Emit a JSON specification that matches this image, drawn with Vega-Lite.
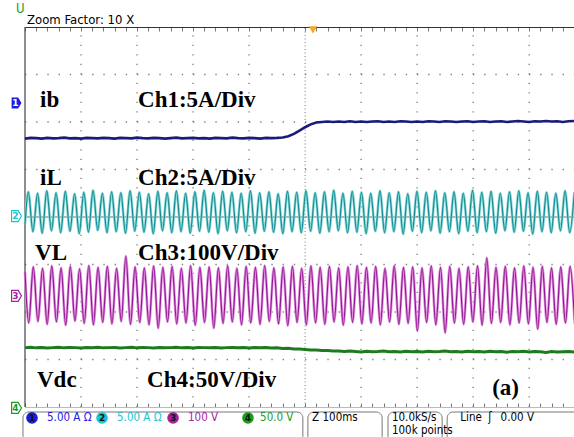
{
"$schema": "https://vega.github.io/schema/vega-lite/v6.json",
"width": 549, "height": 380,
"autosize": {"type": "none"},
"padding": {"left": 25, "top": 27, "right": 0, "bottom": 30},
"background": "white",
"config": {"view": {"stroke": null}},
"datasets": {
"gv": [{"t":10,"v":-4,"v2":4},{"t":20,"v":-4,"v2":4},{"t":30,"v":-4,"v2":4},{"t":40,"v":-4,"v2":4},{"t":60,"v":-4,"v2":4},{"t":70,"v":-4,"v2":4},{"t":80,"v":-4,"v2":4},{"t":90,"v":-4,"v2":4}],
"gh": [{"t":0,"t2":98,"v":-3},{"t":0,"t2":98,"v":-2},{"t":0,"t2":98,"v":-1},{"t":0,"t2":98,"v":1},{"t":0,"t2":98,"v":2},{"t":0,"t2":98,"v":3}],
"cv": [{"t":50,"v":-4,"v2":4}],
"lb": [{"t":0,"v":-4,"v2":4}],
"ch": [{"t":0,"t2":98,"v":0}],
"ib": [{"t":0,"v":1.65},{"t":1,"v":1.665},{"t":2,"v":1.66},{"t":3,"v":1.65},{"t":4,"v":1.665},{"t":5,"v":1.655},{"t":6,"v":1.66},{"t":7,"v":1.67},{"t":8,"v":1.655},{"t":9,"v":1.66},{"t":10,"v":1.65},{"t":11,"v":1.665},{"t":12,"v":1.66},{"t":13,"v":1.655},{"t":14,"v":1.665},{"t":15,"v":1.66},{"t":16,"v":1.65},{"t":17,"v":1.665},{"t":18,"v":1.66},{"t":19,"v":1.655},{"t":20,"v":1.67},{"t":21,"v":1.66},{"t":22,"v":1.655},{"t":23,"v":1.665},{"t":24,"v":1.66},{"t":25,"v":1.65},{"t":26,"v":1.66},{"t":27,"v":1.67},{"t":28,"v":1.655},{"t":29,"v":1.66},{"t":30,"v":1.665},{"t":31,"v":1.655},{"t":32,"v":1.66},{"t":33,"v":1.65},{"t":34,"v":1.665},{"t":35,"v":1.66},{"t":36,"v":1.655},{"t":37,"v":1.67},{"t":38,"v":1.66},{"t":39,"v":1.655},{"t":40,"v":1.665},{"t":41,"v":1.66},{"t":42,"v":1.65},{"t":43,"v":1.665},{"t":44,"v":1.66},{"t":45,"v":1.665},{"t":46,"v":1.675},{"t":47,"v":1.7},{"t":48,"v":1.75},{"t":49,"v":1.82},{"t":50,"v":1.89},{"t":51,"v":1.95},{"t":52,"v":1.99},{"t":53,"v":2.0},{"t":54,"v":2.01},{"t":55,"v":2.0},{"t":56,"v":2.01},{"t":57,"v":2.0},{"t":58,"v":2.015},{"t":59,"v":2.0},{"t":60,"v":2.01},{"t":61,"v":2.0},{"t":62,"v":2.01},{"t":63,"v":2.015},{"t":64,"v":2.0},{"t":65,"v":2.01},{"t":66,"v":2.0},{"t":67,"v":2.015},{"t":68,"v":2.01},{"t":69,"v":2.0},{"t":70,"v":2.01},{"t":71,"v":2.0},{"t":72,"v":2.015},{"t":73,"v":2.01},{"t":74,"v":2.0},{"t":75,"v":2.015},{"t":76,"v":2.01},{"t":77,"v":2.0},{"t":78,"v":2.01},{"t":79,"v":2.015},{"t":80,"v":2.0},{"t":81,"v":2.01},{"t":82,"v":2.015},{"t":83,"v":2.0},{"t":84,"v":2.01},{"t":85,"v":2.015},{"t":86,"v":2.0},{"t":87,"v":2.01},{"t":88,"v":2.02},{"t":89,"v":2.01},{"t":90,"v":2.0},{"t":91,"v":2.015},{"t":92,"v":2.01},{"t":93,"v":2.02},{"t":94,"v":2.01},{"t":95,"v":2.015},{"t":96,"v":2.0},{"t":97,"v":2.015},{"t":98,"v":2.02}],
"il": [{"t":0,"v":-0.15},{"t":0.59,"v":0.53},{"t":1.42,"v":-0.31},{"t":2.24,"v":0.5},{"t":3.07,"v":-0.34},{"t":3.89,"v":0.55},{"t":4.72,"v":-0.29},{"t":5.55,"v":0.51},{"t":6.37,"v":-0.33},{"t":7.2,"v":0.54},{"t":8.02,"v":-0.3},{"t":8.85,"v":0.49},{"t":9.68,"v":-0.35},{"t":10.5,"v":0.52},{"t":11.33,"v":-0.32},{"t":12.15,"v":0.56},{"t":12.98,"v":-0.28},{"t":13.81,"v":0.5},{"t":14.63,"v":-0.33},{"t":15.46,"v":0.53},{"t":16.28,"v":-0.31},{"t":17.11,"v":0.51},{"t":17.94,"v":-0.34},{"t":18.76,"v":0.55},{"t":19.59,"v":-0.3},{"t":20.41,"v":0.52},{"t":21.24,"v":-0.32},{"t":22.07,"v":0.49},{"t":22.89,"v":-0.35},{"t":23.72,"v":0.54},{"t":24.54,"v":-0.29},{"t":25.37,"v":0.51},{"t":26.2,"v":-0.33},{"t":27.02,"v":0.55},{"t":27.85,"v":-0.31},{"t":28.67,"v":0.5},{"t":29.5,"v":-0.34},{"t":30.33,"v":0.53},{"t":31.15,"v":-0.3},{"t":31.98,"v":0.56},{"t":32.8,"v":-0.32},{"t":33.63,"v":0.51},{"t":34.46,"v":-0.35},{"t":35.28,"v":0.54},{"t":36.11,"v":-0.29},{"t":36.93,"v":0.52},{"t":37.76,"v":-0.33},{"t":38.59,"v":0.5},{"t":39.41,"v":-0.31},{"t":40.24,"v":0.55},{"t":41.06,"v":-0.34},{"t":41.89,"v":0.51},{"t":42.72,"v":-0.3},{"t":43.54,"v":0.53},{"t":44.37,"v":-0.32},{"t":45.19,"v":0.49},{"t":46.02,"v":-0.35},{"t":46.85,"v":0.54},{"t":47.67,"v":-0.31},{"t":48.5,"v":0.52},{"t":49.32,"v":-0.33},{"t":50.15,"v":0.55},{"t":50.98,"v":-0.3},{"t":51.8,"v":0.51},{"t":52.63,"v":-0.34},{"t":53.45,"v":0.53},{"t":54.28,"v":-0.31},{"t":55.11,"v":0.56},{"t":55.93,"v":-0.29},{"t":56.76,"v":0.5},{"t":57.58,"v":-0.33},{"t":58.41,"v":0.54},{"t":59.24,"v":-0.32},{"t":60.06,"v":0.52},{"t":60.89,"v":-0.35},{"t":61.71,"v":0.5},{"t":62.54,"v":-0.3},{"t":63.37,"v":0.55},{"t":64.19,"v":-0.33},{"t":65.02,"v":0.51},{"t":65.84,"v":-0.31},{"t":66.67,"v":0.53},{"t":67.5,"v":-0.36},{"t":68.32,"v":0.49},{"t":69.15,"v":-0.3},{"t":69.97,"v":0.54},{"t":70.8,"v":-0.33},{"t":71.63,"v":0.52},{"t":72.45,"v":-0.29},{"t":73.28,"v":0.55},{"t":74.1,"v":-0.34},{"t":74.93,"v":0.51},{"t":75.76,"v":-0.31},{"t":76.58,"v":0.53},{"t":77.41,"v":-0.35},{"t":78.23,"v":0.5},{"t":79.06,"v":-0.3},{"t":79.89,"v":0.56},{"t":80.71,"v":-0.33},{"t":81.54,"v":0.52},{"t":82.36,"v":-0.31},{"t":83.19,"v":0.54},{"t":84.02,"v":-0.34},{"t":84.84,"v":0.5},{"t":85.67,"v":-0.29},{"t":86.49,"v":0.53},{"t":87.32,"v":-0.32},{"t":88.15,"v":0.55},{"t":88.97,"v":-0.3},{"t":89.8,"v":0.51},{"t":90.62,"v":-0.36},{"t":91.45,"v":0.54},{"t":92.28,"v":-0.31},{"t":93.1,"v":0.52},{"t":93.93,"v":-0.33},{"t":94.75,"v":0.5},{"t":95.58,"v":-0.29},{"t":96.41,"v":0.55},{"t":97.23,"v":-0.33},{"t":98.06,"v":0.52}],
"vl": [{"t":0,"v":-1.16},{"t":0.66,"v":-2.23},{"t":1.48,"v":-1.05},{"t":2.31,"v":-2.2},{"t":3.13,"v":-1.08},{"t":3.96,"v":-2.26},{"t":4.78,"v":-1.03},{"t":5.61,"v":-2.21},{"t":6.44,"v":-1.07},{"t":7.26,"v":-2.28},{"t":8.09,"v":-1.04},{"t":8.92,"v":-2.19},{"t":9.74,"v":-1.09},{"t":10.57,"v":-2.24},{"t":11.39,"v":-1.02},{"t":12.22,"v":-2.27},{"t":13.04,"v":-1.06},{"t":13.87,"v":-2.22},{"t":14.7,"v":-1.04},{"t":15.52,"v":-2.25},{"t":16.35,"v":-1.08},{"t":17.18,"v":-2.2},{"t":18.0,"v":-0.82},{"t":18.83,"v":-2.26},{"t":19.65,"v":-1.05},{"t":20.48,"v":-2.22},{"t":21.3,"v":-1.07},{"t":22.13,"v":-2.27},{"t":22.96,"v":-1.03},{"t":23.78,"v":-2.34},{"t":24.61,"v":-1.06},{"t":25.44,"v":-2.21},{"t":26.26,"v":-1.04},{"t":27.09,"v":-2.25},{"t":27.91,"v":-1.08},{"t":28.74,"v":-2.23},{"t":29.56,"v":-1.02},{"t":30.39,"v":-2.28},{"t":31.22,"v":-1.06},{"t":32.04,"v":-2.22},{"t":32.87,"v":-1.05},{"t":33.7,"v":-2.34},{"t":34.52,"v":-1.07},{"t":35.35,"v":-2.24},{"t":36.17,"v":-1.03},{"t":37.0,"v":-2.21},{"t":37.82,"v":-1.08},{"t":38.65,"v":-2.27},{"t":39.48,"v":-1.04},{"t":40.3,"v":-2.23},{"t":41.13,"v":-1.06},{"t":41.96,"v":-2.26},{"t":42.78,"v":-1.02},{"t":43.61,"v":-2.2},{"t":44.43,"v":-1.07},{"t":45.26,"v":-2.25},{"t":46.08,"v":-1.05},{"t":46.91,"v":-2.29},{"t":47.74,"v":-1.04},{"t":48.56,"v":-2.22},{"t":49.39,"v":-1.08},{"t":50.22,"v":-2.27},{"t":51.04,"v":-1.03},{"t":51.87,"v":-2.23},{"t":52.69,"v":-1.06},{"t":53.52,"v":-2.26},{"t":54.34,"v":-1.04},{"t":55.17,"v":-2.21},{"t":56.0,"v":-1.07},{"t":56.82,"v":-2.28},{"t":57.65,"v":-1.05},{"t":58.48,"v":-2.22},{"t":59.3,"v":-1.02},{"t":60.13,"v":-2.25},{"t":60.95,"v":-1.06},{"t":61.78,"v":-2.23},{"t":62.6,"v":-1.04},{"t":63.43,"v":-2.27},{"t":64.26,"v":-1.08},{"t":65.08,"v":-2.21},{"t":65.91,"v":-1.03},{"t":66.74,"v":-2.26},{"t":67.56,"v":-1.06},{"t":68.39,"v":-2.24},{"t":69.21,"v":-1.05},{"t":70.04,"v":-2.4},{"t":70.86,"v":-1.07},{"t":71.69,"v":-2.22},{"t":72.52,"v":-1.03},{"t":73.34,"v":-2.27},{"t":74.17,"v":-1.06},{"t":75.0,"v":-2.44},{"t":75.82,"v":-1.04},{"t":76.65,"v":-2.23},{"t":77.47,"v":-1.08},{"t":78.3,"v":-2.26},{"t":79.12,"v":-1.05},{"t":79.95,"v":-2.21},{"t":80.78,"v":-1.03},{"t":81.6,"v":-2.28},{"t":82.43,"v":-0.86},{"t":83.26,"v":-2.24},{"t":84.08,"v":-1.06},{"t":84.91,"v":-2.22},{"t":85.73,"v":-1.04},{"t":86.56,"v":-2.27},{"t":87.38,"v":-1.07},{"t":88.21,"v":-2.23},{"t":89.04,"v":-1.03},{"t":89.86,"v":-2.25},{"t":90.69,"v":-1.06},{"t":91.52,"v":-2.36},{"t":92.34,"v":-1.04},{"t":93.17,"v":-2.22},{"t":93.99,"v":-1.07},{"t":94.82,"v":-2.26},{"t":95.64,"v":-1.05},{"t":96.47,"v":-2.23},{"t":97.3,"v":-1.04},{"t":98.12,"v":-2.25}],
"vdc": [{"t":0,"v":-2.75},{"t":1,"v":-2.74},{"t":2,"v":-2.755},{"t":3,"v":-2.745},{"t":4,"v":-2.76},{"t":5,"v":-2.75},{"t":6,"v":-2.74},{"t":7,"v":-2.755},{"t":8,"v":-2.745},{"t":9,"v":-2.75},{"t":10,"v":-2.76},{"t":11,"v":-2.745},{"t":12,"v":-2.75},{"t":13,"v":-2.74},{"t":14,"v":-2.755},{"t":15,"v":-2.75},{"t":16,"v":-2.745},{"t":17,"v":-2.76},{"t":18,"v":-2.75},{"t":19,"v":-2.74},{"t":20,"v":-2.755},{"t":21,"v":-2.745},{"t":22,"v":-2.75},{"t":23,"v":-2.76},{"t":24,"v":-2.745},{"t":25,"v":-2.755},{"t":26,"v":-2.75},{"t":27,"v":-2.74},{"t":28,"v":-2.755},{"t":29,"v":-2.75},{"t":30,"v":-2.76},{"t":31,"v":-2.745},{"t":32,"v":-2.75},{"t":33,"v":-2.755},{"t":34,"v":-2.745},{"t":35,"v":-2.76},{"t":36,"v":-2.75},{"t":37,"v":-2.745},{"t":38,"v":-2.755},{"t":39,"v":-2.75},{"t":40,"v":-2.76},{"t":41,"v":-2.75},{"t":42,"v":-2.755},{"t":43,"v":-2.745},{"t":44,"v":-2.76},{"t":45,"v":-2.755},{"t":46,"v":-2.77},{"t":47,"v":-2.765},{"t":48,"v":-2.78},{"t":49,"v":-2.78},{"t":50,"v":-2.79},{"t":51,"v":-2.8},{"t":52,"v":-2.8},{"t":53,"v":-2.81},{"t":54,"v":-2.81},{"t":55,"v":-2.82},{"t":56,"v":-2.82},{"t":57,"v":-2.83},{"t":58,"v":-2.82},{"t":59,"v":-2.83},{"t":60,"v":-2.84},{"t":61,"v":-2.825},{"t":62,"v":-2.835},{"t":63,"v":-2.83},{"t":64,"v":-2.82},{"t":65,"v":-2.835},{"t":66,"v":-2.83},{"t":67,"v":-2.84},{"t":68,"v":-2.825},{"t":69,"v":-2.835},{"t":70,"v":-2.83},{"t":71,"v":-2.84},{"t":72,"v":-2.825},{"t":73,"v":-2.835},{"t":74,"v":-2.83},{"t":75,"v":-2.82},{"t":76,"v":-2.835},{"t":77,"v":-2.83},{"t":78,"v":-2.84},{"t":79,"v":-2.825},{"t":80,"v":-2.835},{"t":81,"v":-2.83},{"t":82,"v":-2.84},{"t":83,"v":-2.825},{"t":84,"v":-2.835},{"t":85,"v":-2.83},{"t":86,"v":-2.845},{"t":87,"v":-2.83},{"t":88,"v":-2.835},{"t":89,"v":-2.825},{"t":90,"v":-2.84},{"t":91,"v":-2.83},{"t":92,"v":-2.835},{"t":93,"v":-2.85},{"t":94,"v":-2.83},{"t":95,"v":-2.84},{"t":96,"v":-2.835},{"t":97,"v":-2.83},{"t":98,"v":-2.84}],
"labels": [{"t":2.68,"v":2.316,"label":"ib"},{"t":20.18,"v":2.316,"label":"Ch1:5A/Div"},{"t":2.68,"v":0.674,"label":"iL"},{"t":20.18,"v":0.674,"label":"Ch2:5A/Div"},{"t":1.79,"v":-0.905,"label":"VL"},{"t":20.18,"v":-0.905,"label":"Ch3:100V/Div"},{"t":2.14,"v":-3.579,"label":"Vdc"},{"t":21.79,"v":-3.579,"label":"Ch4:50V/Div"},{"t":83.4,"v":-3.747,"label":"(a)"}],
"trig": [{"t":51.4,"v":3.94}],
"chm1": [{"t":-1.61,"v":2.4,"c":"c1","n":"1"}],
"chm": [{"t":-1.61,"v":0.02,"c":"c2","n":"2"},{"t":-1.61,"v":-1.66,"c":"c3","n":"3"},{"t":-1.61,"v":-4.02,"c":"c4","n":"4"}],
"boxes": [{"t":-0.36,"t2":49.6,"v":-4.105,"v2":-4.75},{"t":50.5,"t2":63.75,"v":-4.105,"v2":-4.75},{"t":64.8,"t2":74.46,"v":-4.105,"v2":-4.75},{"t":75.36,"t2":99.5,"v":-4.105,"v2":-4.75}],
"circ": [{"t":1.25,"v":-4.23,"c":"c1","n":"1"},{"t":13.75,"v":-4.23,"c":"c2","n":"2"},{"t":26.43,"v":-4.23,"c":"c3","n":"3"},{"t":39.8,"v":-4.23,"c":"c4","n":"4"}],
"stat": [{"t":3.93,"v":-4.23,"c":"c1","label":"5.00 A Ω"},{"t":16.43,"v":-4.23,"c":"c2","label":"5.00 A Ω"},{"t":29.1,"v":-4.23,"c":"c3","label":"100 V"},{"t":41.96,"v":-4.23,"c":"c4","label":"50.0 V"},{"t":51.25,"v":-4.23,"c":"k","label":"Z 100ms"},{"t":65.5,"v":-4.23,"c":"k","label":"10.0kS/s"},{"t":65.5,"v":-4.5,"c":"k","label":"100k points"},{"t":77.7,"v":-4.23,"c":"k","label":"Line"},{"t":82.7,"v":-4.23,"c":"k","label":"ʃ"},{"t":84.9,"v":-4.23,"c":"k","label":"0.00 V"}],
"top": [{"t":0.36,"v":4.063,"c":"k","label":"Zoom Factor: 10 X"},{"t":-1.6,"v":4.3,"c":"c4","label":"ᑌ"}]
},
"encoding": {
"x": {"field": "t", "type": "quantitative", "scale": {"domain": [0, 98], "nice": false, "zero": false}, "axis": null},
"y": {"field": "v", "type": "quantitative", "scale": {"domain": [-4, 4], "nice": false, "zero": false}, "axis": null}
},
"layer": [
{"data": {"name": "gv"}, "mark": {"type": "rule", "color": "#7a7a7a", "strokeWidth": 1.3, "strokeDash": [1.3, 8.2]},
 "encoding": {"x": {"field": "t", "type": "quantitative", "scale": {"domain": [0, 98], "nice": false, "zero": false},
   "axis": {"orient": "top", "values": [0,2,4,6,8,10,12,14,16,18,20,22,24,26,28,30,32,34,36,38,40,42,44,46,48,50,52,54,56,58,60,62,64,66,68,70,72,74,76,78,80,82,84,86,88,90,92,94,96,98], "tickSize": -4, "labels": false, "grid": false, "domainColor": "#333", "tickColor": "#777", "title": null}},
  "y2": {"field": "v2"}}},
{"data": {"name": "gh"}, "mark": {"type": "rule", "color": "#7a7a7a", "strokeWidth": 1.3, "strokeDash": [1.3, 9.9]},
 "encoding": {"y": {"field": "v", "type": "quantitative", "scale": {"domain": [-4, 4], "nice": false, "zero": false},
   "axis": {"orient": "left", "values": [-4,-3.8,-3.6,-3.4,-3.2,-3,-2.8,-2.6,-2.4,-2.2,-2,-1.8,-1.6,-1.4,-1.2,-1,-0.8,-0.6,-0.4,-0.2,0,0.2,0.4,0.6,0.8,1,1.2,1.4,1.6,1.8,2,2.2,2.4,2.6,2.8,3,3.2,3.4,3.6,3.8,4], "tickSize": -4, "labels": false, "grid": false, "domainColor": "#333", "tickColor": "#777", "title": null}},
  "x2": {"field": "t2"}}},
{"data": {"name": "gv"}, "mark": {"type": "rule", "opacity": 0},
 "encoding": {"x": {"field": "t", "type": "quantitative", "scale": {"domain": [0, 98], "nice": false, "zero": false},
   "axis": {"orient": "bottom", "values": [0,2,4,6,8,10,12,14,16,18,20,22,24,26,28,30,32,34,36,38,40,42,44,46,48,50,52,54,56,58,60,62,64,66,68,70,72,74,76,78,80,82,84,86,88,90,92,94,96,98], "tickSize": -4, "labels": false, "grid": false, "domainColor": "#bbbbbb", "tickColor": "#777", "title": null}},
  "y2": {"field": "v2"}}},
{"data": {"name": "lb"}, "mark": {"type": "rule", "color": "#444444", "strokeWidth": 1.2}, "encoding": {"y2": {"field": "v2"}}},
{"data": {"name": "cv"}, "mark": {"type": "rule", "color": "#777777", "strokeWidth": 1, "strokeDash": [1, 2.5]}, "encoding": {"y2": {"field": "v2"}}},
{"data": {"name": "ch"}, "mark": {"type": "rule", "color": "#6e6e6e", "strokeWidth": 1}, "encoding": {"x2": {"field": "t2"}}},
{"data": {"name": "ib"}, "mark": {"type": "line", "color": "#1b1b7c", "strokeWidth": 2.6}},
{"data": {"name": "il"}, "mark": {"type": "line", "color": "#86d6d6", "strokeWidth": 2.6, "interpolate": "monotone"}},
{"data": {"name": "il"}, "mark": {"type": "line", "color": "#0f8a90", "strokeWidth": 1.1, "interpolate": "monotone"}},
{"data": {"name": "vl"}, "mark": {"type": "line", "color": "#e090de", "strokeWidth": 2.6, "interpolate": "monotone"}},
{"data": {"name": "vl"}, "mark": {"type": "line", "color": "#8e1590", "strokeWidth": 1.1, "interpolate": "monotone"}},
{"data": {"name": "vdc"}, "mark": {"type": "line", "color": "#1f7a1f", "strokeWidth": 3}},
{"data": {"name": "labels"}, "mark": {"type": "text", "font": "Liberation Serif", "fontWeight": "bold", "fontSize": 23, "align": "left", "baseline": "alphabetic", "color": "#000000"},
 "encoding": {"text": {"field": "label"}}},
{"data": {"name": "trig"}, "mark": {"type": "point", "shape": "triangle-down", "filled": true, "color": "#f5a623", "size": 70, "opacity": 1}},
{"data": {"name": "chm1"}, "mark": {"type": "point", "shape": "M-0.8,-1L0.4,-1L1,0L0.4,1L-0.8,1Z", "filled": true, "size": 120, "opacity": 1},
 "encoding": {"color": {"field": "c", "type": "nominal", "scale": {"domain": ["c1","c2","c3","c4","k","w"], "range": ["#1c1ce0","#19c5cf","#a3239f","#1e9b1e","#000000","#ffffff"]}, "legend": null}}},
{"data": {"name": "chm"}, "mark": {"type": "point", "shape": "M-0.8,-1L0.4,-1L1,0L0.4,1L-0.8,1Z", "filled": false, "fill": "#ffffff", "strokeWidth": 1.2, "size": 120, "opacity": 1},
 "encoding": {"stroke": {"field": "c", "type": "nominal", "scale": {"domain": ["c1","c2","c3","c4","k","w"], "range": ["#1c1ce0","#19c5cf","#a3239f","#1e9b1e","#000000","#ffffff"]}, "legend": null}}},
{"data": {"name": "chm1"}, "mark": {"type": "text", "font": "DejaVu Sans", "fontSize": 9, "fontWeight": "bold", "color": "#ffffff", "baseline": "middle", "dx": -0.5},
 "encoding": {"text": {"field": "n"}}},
{"data": {"name": "chm"}, "mark": {"type": "text", "font": "DejaVu Sans", "fontSize": 9, "fontWeight": "bold", "baseline": "middle", "dx": -0.5},
 "encoding": {"text": {"field": "n"}, "color": {"field": "c", "type": "nominal", "scale": {"domain": ["c1","c2","c3","c4","k","w"], "range": ["#1c1ce0","#19c5cf","#a3239f","#1e9b1e","#000000","#ffffff"]}, "legend": null}}},
{"data": {"name": "boxes"}, "mark": {"type": "rect", "fillOpacity": 0, "stroke": "#777777", "strokeWidth": 1, "cornerRadius": 6, "clip": false},
 "encoding": {"x2": {"field": "t2"}, "y2": {"field": "v2"}}},
{"data": {"name": "circ"}, "mark": {"type": "point", "shape": "circle", "filled": true, "size": 135, "opacity": 1},
 "encoding": {"color": {"field": "c", "type": "nominal", "scale": {"domain": ["c1","c2","c3","c4","k","w"], "range": ["#1c1ce0","#19c5cf","#a3239f","#1e9b1e","#000000","#ffffff"]}, "legend": null}}},
{"data": {"name": "circ"}, "mark": {"type": "text", "font": "DejaVu Sans", "fontSize": 9, "fontWeight": "bold", "color": "#111111", "baseline": "middle"},
 "encoding": {"text": {"field": "n"}}},
{"data": {"name": "stat"}, "mark": {"type": "text", "font": "Liberation Sans Narrow, DejaVu Sans Condensed, sans-serif", "fontSize": 11.5, "align": "left", "baseline": "middle"},
 "encoding": {"text": {"field": "label"}, "color": {"field": "c", "type": "nominal", "scale": {"domain": ["c1","c2","c3","c4","k","w"], "range": ["#1c1ce0","#19c5cf","#a3239f","#1e9b1e","#000000","#ffffff"]}, "legend": null}}},
{"data": {"name": "top"}, "mark": {"type": "text", "font": "Liberation Sans Narrow, DejaVu Sans Condensed, sans-serif", "fontSize": 13, "align": "left", "baseline": "alphabetic"},
 "encoding": {"text": {"field": "label"}, "color": {"field": "c", "type": "nominal", "scale": {"domain": ["c1","c2","c3","c4","k","w"], "range": ["#1c1ce0","#19c5cf","#a3239f","#1e9b1e","#000000","#ffffff"]}, "legend": null}}}
]
}
